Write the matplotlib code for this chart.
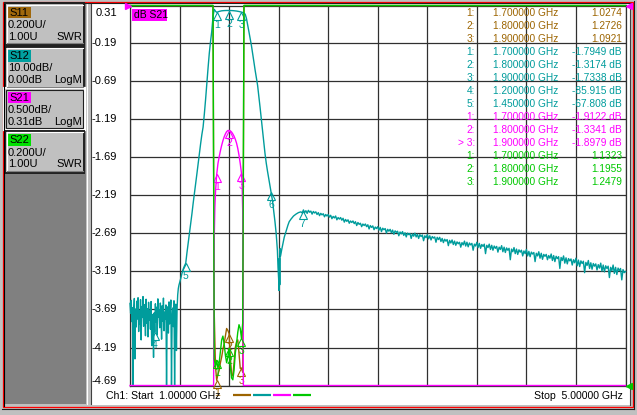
import numpy as np
import matplotlib.pyplot as plt
import matplotlib.transforms as mtransforms
from matplotlib.patches import Rectangle

plt.rcParams['font.family'] = ['Liberation Sans', 'DejaVu Sans']

W, H = 637, 415

# sweep and display scales
f_start, f_stop = 1.0, 5.0
s21_ref, s21_div = 0.31, 0.5     # dB, ref at top
s12_ref, s12_div = 0.0, 10.0     # dB, ref at top
swr_ref, swr_div = 1.0, 0.2      # U, ref at bottom

c11 = '#9c6400'
c12 = '#009c9c'
c21 = '#ff00ff'
c22 = '#00c800'

# S12 trace (LogM) - low stop band, noisy
s12_low_start, s12_low_step = 1.000, 0.005
s12_low = [-78.4, -81.0, -77.6, -83.2, -79.5, -100.0, -80.8, -77.1, -93.0, -79.9,
           -84.6, -77.8, -82.5, -76.9, -85.8, -80.3, -83.9, -77.4, -88.0, -79.2,
           -82.1, -76.6, -84.4, -78.7, -81.5, -86.9, -77.3, -83.6, -79.8, -87.2,
           -78.1, -82.8, -80.4, -85.2, -77.9, -89.5, -81.3, -84.0, -92.6, -80.9,
           -85.9, -78.5, -83.3, -79.4, -86.7, -77.2, -82.0, -80.1, -84.8, -78.3,
           -81.9, -87.8, -79.0, -83.1, -77.0, -85.6, -80.7, -82.6, -78.8, -100.0,
           -81.4, -79.3, -86.2, -78.0, -83.8, -80.2, -77.5, -100.0, -82.3, -79.6,
           -84.5, -77.7, -100.0, -81.1, -78.6, -90.8, -80.0, -76.2, -74.5]
# S12 - pass band and skirts
s12_edge_f = [1.395, 1.400, 1.410, 1.420, 1.430, 1.440, 1.450, 1.460, 1.470, 1.480,
              1.490, 1.500, 1.510, 1.520, 1.530, 1.540, 1.550, 1.560, 1.570, 1.580,
              1.590, 1.600, 1.610, 1.620, 1.630, 1.640, 1.650, 1.660, 1.670, 1.680,
              1.690, 1.700, 1.720, 1.740, 1.760, 1.780, 1.800, 1.820, 1.840, 1.860,
              1.880, 1.900, 1.910, 1.920, 1.930, 1.940, 1.950, 1.960, 1.970, 1.980,
              1.990, 2.000, 2.010, 2.020, 2.030, 2.040, 2.050, 2.060, 2.070, 2.080,
              2.090, 2.100, 2.110, 2.120, 2.130, 2.140, 2.150, 2.160, 2.170, 2.180,
              2.190, 2.195, 2.200, 2.203, 2.206, 2.209, 2.212, 2.215, 2.225, 2.235,
              2.245, 2.255, 2.265, 2.275, 2.285, 2.300, 2.320, 2.340, 2.360, 2.380,
              2.390]
s12_edge = [-73.6, -73.0, -71.8, -70.4, -69.3, -68.5, -67.808, -65.0, -62.5, -60.0,
            -57.4, -54.8, -52.0, -49.5, -47.0, -44.3, -41.6, -39.0, -36.4, -34.0,
            -32.0, -28.6, -24.8, -20.6, -16.5, -12.6, -9.5, -6.8, -3.0, -1.0,
            -1.5, -1.7949, -1.55, -1.40, -1.34, -1.31, -1.3174, -1.33, -1.38, -1.46,
            -1.58, -1.7338, -1.85, -2.0, -2.3, -3.4, -5.1, -6.9, -8.7, -10.5,
            -12.6, -14.8, -17.0, -19.0, -21.0, -23.8, -26.8, -29.9, -33.2, -36.3,
            -39.0, -41.5, -43.6, -45.5, -47.4, -49.2, -51.3, -54.0, -56.8, -60.0,
            -64.5, -69.0, -72.0, -75.0, -66.5, -73.5, -64.0, -66.0, -64.2, -62.6,
            -61.0, -59.9, -58.7, -57.8, -56.9, -56.2, -55.4, -54.9, -54.5, -54.3,
            -54.6]
# S12 - high stop band, noisy
s12_high_start, s12_high_step = 2.40, 0.01
s12_high = [-53.8, -54.5, -54.0, -54.7, -53.9, -54.4, -54.1, -54.9, -54.2, -54.6,
            -54.3, -55.0, -54.5, -55.3, -54.7, -55.1, -54.8, -55.6, -55.0, -55.4,
            -55.0, -55.7, -55.2, -56.1, -55.5, -55.9, -55.4, -56.4, -55.8, -56.2,
            -55.8, -56.5, -56.0, -57.0, -56.3, -56.8, -56.4, -57.3, -56.7, -57.1,
            -56.7, -57.4, -56.9, -57.9, -57.1, -57.6, -57.3, -58.2, -57.5, -57.9,
            -57.5, -58.2, -57.7, -58.8, -57.9, -58.4, -58.0, -59.0, -58.3, -58.7,
            -58.2, -59.1, -58.4, -59.5, -58.6, -59.0, -58.7, -59.9, -58.9, -59.4,
            -58.9, -59.8, -59.1, -60.2, -59.3, -59.7, -59.4, -60.6, -59.6, -60.1,
            -59.5, -60.5, -59.8, -60.9, -59.9, -60.3, -60.0, -61.3, -60.1, -60.7,
            -59.9, -60.9, -60.2, -61.3, -60.3, -60.8, -60.4, -61.9, -60.6, -61.1,
            -60.3, -61.4, -60.6, -61.7, -60.8, -61.2, -60.9, -62.3, -61.0, -61.6,
            -61.0, -62.1, -61.3, -62.4, -61.5, -62.0, -61.6, -63.2, -61.8, -62.5,
            -61.7, -62.9, -62.0, -63.1, -62.2, -62.7, -62.3, -63.6, -62.4, -63.0,
            -62.0, -63.3, -62.3, -63.5, -62.5, -63.0, -62.6, -64.4, -62.8, -63.3,
            -62.3, -63.7, -62.6, -63.9, -62.9, -63.4, -62.8, -65.3, -63.1, -63.7,
            -62.8, -64.2, -63.1, -64.4, -63.3, -63.9, -63.4, -64.9, -63.6, -64.2,
            -63.2, -64.8, -63.6, -65.0, -63.8, -64.4, -63.9, -66.9, -64.1, -64.8,
            -63.7, -65.3, -64.1, -65.5, -64.3, -64.9, -64.4, -65.9, -64.6, -65.3,
            -64.2, -65.9, -64.7, -66.1, -64.9, -65.4, -65.0, -67.4, -65.2, -65.9,
            -64.8, -66.5, -65.2, -66.8, -65.5, -66.0, -65.5, -66.9, -65.8, -66.5,
            -65.4, -67.1, -65.8, -67.4, -66.0, -66.6, -66.1, -69.2, -66.3, -67.1,
            -65.9, -67.8, -66.4, -68.0, -66.6, -67.2, -66.7, -68.3, -66.9, -67.7,
            -66.5, -68.5, -67.0, -68.7, -67.2, -67.9, -67.3, -70.3, -67.6, -68.4,
            -67.1, -69.2, -67.7, -69.4, -67.9, -68.6, -68.0, -69.6, -68.2, -69.1,
            -67.8, -69.9, -68.3, -70.1, -68.5, -69.2, -68.6, -71.6, -68.9, -69.8,
            -68.3, -70.5, -68.9, -70.8, -69.1, -69.8, -69.2, -72.2, -69.5, -70.3,
            -70.0]

# S21 trace (LogM)
s21_f = [1.00, 1.60, 1.670, 1.675, 1.680, 1.685, 1.690, 1.695, 1.700,
         1.710, 1.720, 1.730, 1.740, 1.750, 1.760, 1.770, 1.780, 1.790, 1.800,
         1.810, 1.820, 1.830, 1.840, 1.850, 1.860, 1.870, 1.880, 1.890, 1.900,
         1.905, 1.910, 1.915, 1.920, 2.00, 5.00]
s21 = [-80.0, -28.6, -6.5, -5.5, -2.75, -2.35, -2.15, -2.02, -1.9122,
       -1.77, -1.68, -1.60, -1.53, -1.47, -1.42, -1.38, -1.35, -1.335, -1.3341,
       -1.34, -1.355, -1.38, -1.41, -1.45, -1.50, -1.57, -1.66, -1.77, -1.8979,
       -2.05, -2.40, -6.0, -9.0, -17.3, -70.0]

# S11 / S22 traces (SWR)
swr_f = [1.00, 1.66, 1.67, 1.68, 1.69, 1.70, 1.71, 1.72, 1.73, 1.74, 1.75, 1.76,
         1.77, 1.78, 1.79, 1.80, 1.81, 1.82, 1.83, 1.84, 1.85, 1.86, 1.87, 1.88,
         1.89, 1.90, 1.91, 1.92, 5.00]
s11 = [30, 30, 20, 1.38, 1.10, 1.0274, 1.06, 1.08, 1.12, 1.15, 1.19, 1.22,
       1.26, 1.30, 1.29, 1.2726, 1.15, 1.06, 1.05, 1.12, 1.20, 1.23, 1.24, 1.17,
       1.09, 1.0921, 1.07, 20, 30]
s22 = [30, 30, 20, 1.14, 1.10, 1.1323, 1.09, 1.12, 1.18, 1.24, 1.26, 1.22,
       1.16, 1.12, 1.15, 1.1955, 1.10, 1.04, 1.03, 1.08, 1.17, 1.22, 1.28, 1.32,
       1.30, 1.2479, 1.33, 20, 30]

# markers
mk_f = [1.7, 1.8, 1.9]
s11_mk = [1.0274, 1.2726, 1.0921]
s12_mk_f = [1.7, 1.8, 1.9, 1.2, 1.45]
s12_mk = [-1.7949, -1.3174, -1.7338, -85.915, -67.808]
s12_mk2_f = [2.14, 2.395]
s12_mk2 = [-49.2, -54.1]
s21_mk = [-1.9122, -1.3341, -1.8979]
s22_mk = [1.1323, 1.1955, 1.2479]
s21_active = 2

# channel buttons
btn_names = ['S11', 'S12', 'S21', 'S22']
btn_scale = ['0.200U/', '10.00dB/', '0.500dB/', '0.200U/']
btn_ref = ['1.00U', '0.00dB', '0.31dB', '1.00U']
btn_fmt = ['SWR', 'LogM', 'LogM', 'SWR']
btn_cols = ['#a0680c', '#00a0a0', '#ff00ff', '#00e000']
btn_top = [3.3, 46.7, 88.5, 131.0]

fig = plt.figure(figsize=(W / 100, H / 100), dpi=100, facecolor='#c0c0c0')

# background frame in pixel coordinates
bg = fig.add_axes([0, 0, 1, 1])
bg.set_xlim(0, W)
bg.set_ylim(H, 0)
bg.axis('off')
bg.add_patch(Rectangle((5, 3), 81, 401, fc='#808080', ec='none'))
bg.add_patch(Rectangle((91.5, 4), 539, 400.5, fc='white', ec='none'))
bg.plot([87, 87], [3, 404], color='white', lw=0.8)
bg.plot([91, 91], [4, 404], color='#404040', lw=0.8)
bg.add_patch(Rectangle((2.7, 1.7), 630, 405, fill=False, ec='red', lw=0.9))
bg.plot([4, 4], [3, 406], color='black', lw=0.8)
bg.plot([4, 631], [3.3, 3.3], color='#202020', lw=0.8)
bg.plot([630.3, 630.3], [3.3, 405], color='#404040', lw=0.8)
bg.plot([634.3, 634.3], [1, 409], color='#202020', lw=0.8)
bg.plot([2, 634.3], [409, 409], color='#202020', lw=0.8)

for i in range(4):
    t = btn_top[i]
    if i == 2:
        bg.add_patch(Rectangle((4, t), 81, 41.5, fc='#c0c0c0', ec='white', lw=1.6))
        bg.add_patch(Rectangle((6, t + 1.8), 77, 38, fill=False, ec='#202020', lw=0.8))
    else:
        bg.add_patch(Rectangle((5, t), 79, 41.5, fc='#c0c0c0', ec='#202020', lw=1.4))
        bg.plot([6.5, 82.5], [t + 1.5, t + 1.5], color='white', lw=0.8)
        bg.plot([6.5, 6.5], [t + 1.5, t + 40], color='white', lw=0.8)
        bg.plot([6.5, 82.5], [t + 40, t + 40], color='#808080', lw=0.8)
    bg.add_patch(Rectangle((8.3, t + 3.4), 22.7, 11.6, fc=btn_cols[i], ec='none'))
    bg.text(9.3, t + 9.4, btn_names[i], fontsize=8, ha='left', va='center', color='black')
    bg.text(8, t + 21.7, btn_scale[i], fontsize=8, ha='left', va='center', color='black')
    bg.text(8, t + 33.4, btn_ref[i], fontsize=8, ha='left', va='center', color='black')
    bg.text(82, t + 33.4, btn_fmt[i], fontsize=8, ha='right', va='center', color='black')

rect = [130 / W, 1 - 385.5 / H, 495.5 / W, 380 / H]

# graticule (S21 scale)
ax = fig.add_axes(rect)
ax.set_facecolor('none')
ax.set_xlim(f_start, f_stop)
ax.set_ylim(s21_ref - 10 * s21_div, s21_ref)
ax.set_xticks(np.linspace(f_start, f_stop, 11))
yt = [s21_ref - s21_div * i for i in range(11)]
ax.set_yticks(yt)
ax.tick_params(length=0, labelleft=False, labelbottom=False)
ax.grid(True, color='#303030', lw=0.9)
for s in ax.spines.values():
    s.set_color('#303030')
    s.set_linewidth(0.9)

lab_tf = mtransforms.blended_transform_factory(fig.transFigure, ax.transData)
for i, v in enumerate(yt):
    dy = 0
    if i == 0:
        dy = -8
    elif i == 10:
        dy = 4.5
    tf = mtransforms.offset_copy(lab_tf, fig=fig, x=0, y=dy, units='dots')
    ax.text(117 / W, v, f'{v:.2f}', transform=tf, ha='right', va='center',
            fontsize=8, color='black', clip_on=False)


def trace_axes(lo, hi):
    a = fig.add_axes(rect)
    a.set_xlim(f_start, f_stop)
    a.set_ylim(lo, hi)
    a.axis('off')
    a.patch.set_visible(False)
    return a


def draw_markers(a, freqs, vals, labels, color, lo, hi):
    tri = mtransforms.offset_copy(a.transData, fig=fig, x=0, y=-4, units='dots')
    lab = mtransforms.offset_copy(a.transData, fig=fig, x=0, y=-13, units='dots')
    for f, v, t in zip(freqs, vals, labels):
        v = min(max(v, lo), hi)
        a.plot([f], [v], marker='^', ms=6, mfc='none', mec=color, mew=0.8,
               transform=tri, clip_on=False)
        a.text(f, v, t, transform=lab, ha='center', va='center', fontsize=7.5,
               color=color, clip_on=False)


swr_lo, swr_hi = swr_ref, swr_ref + 10 * swr_div
db12_lo, db12_hi = s12_ref - 10 * s12_div, s12_ref
db21_lo, db21_hi = s21_ref - 10 * s21_div, s21_ref

# S11
ax11 = trace_axes(swr_lo, swr_hi)
ax11.plot(swr_f, np.clip(s11, swr_lo, swr_hi), color=c11, lw=1, clip_on=False)
draw_markers(ax11, mk_f, s11_mk, ['1', '2', '3'], c11, swr_lo, swr_hi)

# S12
f12 = np.concatenate([s12_low_start + s12_low_step * np.arange(len(s12_low)),
                      s12_edge_f,
                      s12_high_start + s12_high_step * np.arange(len(s12_high))])
v12 = np.concatenate([s12_low, s12_edge, s12_high])
ax12 = trace_axes(db12_lo, db12_hi)
ax12.plot(f12, np.clip(v12, db12_lo, db12_hi), color=c12, lw=1, clip_on=False)
draw_markers(ax12, s12_mk_f + s12_mk2_f, s12_mk + s12_mk2,
             ['1', '2', '3', '4', '5', '6', '7'], c12, db12_lo, db12_hi)

# S21
ax21 = trace_axes(db21_lo, db21_hi)
ax21.plot(s21_f, np.clip(s21, db21_lo, db21_hi), color=c21, lw=1, clip_on=False)
draw_markers(ax21, mk_f, s21_mk, ['1', '2', '3'], c21, db21_lo, db21_hi)

# S22
ax22 = trace_axes(swr_lo, swr_hi)
ax22.plot(swr_f, np.clip(s22, swr_lo, swr_hi), color=c22, lw=1, clip_on=False)
draw_markers(ax22, mk_f, s22_mk, ['1', '2', '3'], c22, swr_lo, swr_hi)

# foreground: annotations in pixel coordinates
fg = fig.add_axes([0, 0, 1, 1])
fg.set_xlim(0, W)
fg.set_ylim(H, 0)
fg.axis('off')
fg.patch.set_visible(False)

fg.add_patch(Rectangle((132, 9), 35, 12.5, fc=c21, ec='none'))
fg.text(133.5, 15.5, 'dB S21', fontsize=7.5, ha='left', va='center', color='black')

# reference position arrows
fg.plot([128], [6.5], marker='>', ms=5, color=c21, mec=c21)
fg.plot([628.5], [6.5], marker='<', ms=5, color=c21, mec=c21)
fg.plot([628.5], [385.5], marker='<', ms=5, color=c22, mec=c22)

# marker table
rows = []
for col, freqs, vals, unit in [(c11, mk_f, s11_mk, ''),
                               (c12, s12_mk_f, s12_mk, ' dB'),
                               (c21, mk_f, s21_mk, ' dB'),
                               (c22, mk_f, s22_mk, '')]:
    for i, (f, v) in enumerate(zip(freqs, vals)):
        num = f'{i + 1}:'
        if col == c21 and i == s21_active:
            num = '> ' + num
        rows.append((col, num, f'{f:.6f} GHz', f'{v:.5g}{unit}'))

for k, (col, num, fs, vs) in enumerate(rows):
    y = 13.3 + 12.94 * k
    fg.text(475, y, num, fontsize=7.3, ha='right', va='center', color=col)
    fg.text(493, y, fs, fontsize=7.3, ha='left', va='center', color=col)
    fg.text(622, y, vs, fontsize=7.3, ha='right', va='center', color=col)

# status line
fg.text(106, 396, 'Ch1: Start  1.00000 GHz', fontsize=7.6, ha='left', va='center', color='black')
fg.text(623, 396, 'Stop  5.00000 GHz', fontsize=7.6, ha='right', va='center', color='black')
for x0, col in zip([233, 253, 273, 293], [c11, c12, c21, c22]):
    fg.plot([x0, x0 + 18], [395, 395], color=col, lw=1.6, solid_capstyle='butt')

fig.savefig('out.png', dpi=100, facecolor=fig.get_facecolor())
